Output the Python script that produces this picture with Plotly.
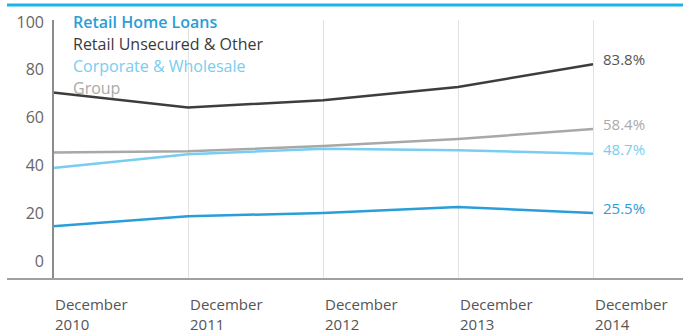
import plotly.graph_objects as go

years = ["2010", "2011", "2012", "2013", "2014"]
series_names = ["Retail Home Loans", "Retail Unsecured & Other", "Corporate & Wholesale", "Group"]
retail_home = [20.3, 24.2, 25.5, 27.8, 25.5]
retail_unsecured = [72.7, 66.8, 69.7, 74.9, 83.8]
corporate = [43.1, 48.5, 50.7, 50.1, 48.7]
group = [49.2, 49.7, 51.7, 54.5, 58.4]
y_ticks = [0, 20, 40, 60, 80, 100]

colors = ["#2a9ed8", "#3d3d3d", "#78cdf0", "#a8a8a8"]
label_colors = ["#2a9ed8", "#555555", "#78cdf0", "#aaaaaa"]
legend_colors = ["#2a9ed8", "#3a3a3a", "#78cdf0", "#aaaaaa"]
values = [retail_home, retail_unsecured, corporate, group]

W, H = 683, 333
TOP, BOTTOM = 20, 278  # plot area in pixels
FONT = "Open Sans"

x = list(range(len(years)))
fig = go.Figure()

# draw order: light lines first, dark last
for i in [3, 2, 0, 1]:
    fig.add_trace(go.Scatter(
        x=x, y=values[i], mode="lines", name=series_names[i],
        line=dict(color=colors[i], width=2.5), showlegend=False,
    ))

# invisible trace so the label axis exists
fig.add_trace(go.Scatter(x=[0], y=[0], yaxis="y2", mode="markers",
                         marker=dict(opacity=0), showlegend=False, hoverinfo="skip"))

annotations = []
# legend as coloured text
for i, name in enumerate(series_names):
    ypx = 22 + i * 22
    annotations.append(dict(
        text=name, xref="paper", yref="paper",
        x=71 / W, y=(BOTTOM - ypx) / (BOTTOM - TOP),
        xanchor="left", yanchor="middle", showarrow=False,
        font=dict(family=FONT, size=16, color=legend_colors[i],
                  weight=600 if i == 0 else 400),
    ))

# end-of-line value labels
for i in range(len(series_names)):
    v = values[i][-1]
    annotations.append(dict(
        text=f"{v}%", x=x[-1], y=v, xref="x", yref="y",
        xanchor="left", yanchor="middle", xshift=8, yshift=5,
        showarrow=False, font=dict(family=FONT, size=15, color=label_colors[i]),
    ))

# x labels, left-aligned on gridlines
for xi, yr in zip(x, years):
    annotations.append(dict(
        text=f"December<br>{yr}", x=xi, y=0, xref="x", yref="paper",
        xanchor="left", yanchor="top", yshift=-14, align="left",
        showarrow=False, font=dict(family=FONT, size=15, color="#555555"),
    ))

fig.update_layout(
    width=W, height=H,
    margin=dict(l=0, r=0, t=TOP, b=H - BOTTOM, pad=0, autoexpand=False),
    paper_bgcolor="white", plot_bgcolor="white",
    xaxis=dict(
        domain=[7 / W, 1], range=[-46 / 135, 630 / 135], automargin=False,
        tickvals=x, showticklabels=False, showgrid=True,
        gridcolor="#e2e2e2", gridwidth=1, zeroline=False,
        showline=True, linecolor="#a0a0a0", linewidth=2,
    ),
    yaxis=dict(
        range=[0, (BOTTOM - TOP) / 2.551], anchor="free", position=53 / W,
        showline=True, linecolor="#8c8c8c", linewidth=1.5, automargin=False,
        showgrid=False, zeroline=False, showticklabels=False, ticks="",
    ),
    yaxis2=dict(
        overlaying="y", anchor="free", position=44 / W, side="left",
        range=[-(BOTTOM - 261) / 2.39, 100 + (22 - TOP) / 2.39], automargin=False,
        tickvals=y_ticks, showgrid=False, zeroline=False, showline=False,
        ticks="", tickfont=dict(family=FONT, size=16, color="#666666"),
    ),
    shapes=[dict(
        type="line", xref="paper", yref="paper",
        x0=7 / W, x1=1, y0=(BOTTOM - 5) / (BOTTOM - TOP), y1=(BOTTOM - 5) / (BOTTOM - TOP),
        line=dict(color="#1ab3ea", width=3),
    )],
    annotations=annotations,
)

# page body has a default 8px margin; remove it so the figure sits at 0,0
fig.write_html("out.html", config={"displayModeBar": False},
               post_script="document.body.style.margin='0';")
